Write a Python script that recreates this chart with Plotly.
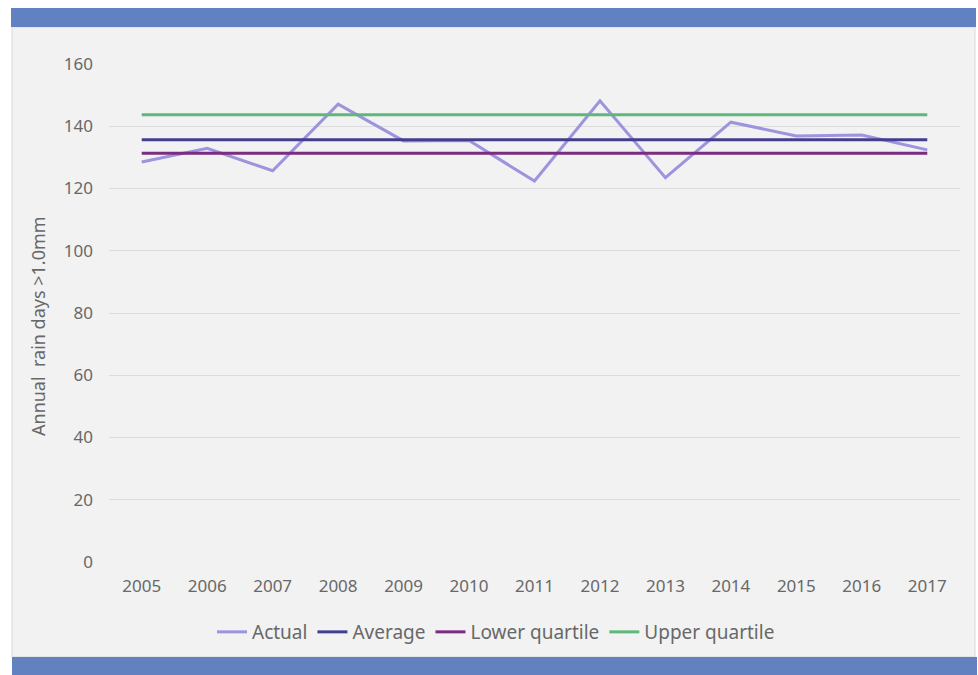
import plotly.graph_objects as go

# Annual rain days (>1.0mm) per year, with reference levels
years = ["2005", "2006", "2007", "2008", "2009", "2010", "2011",
         "2012", "2013", "2014", "2015", "2016", "2017"]
actual = [128.5, 132.9, 125.7, 147.1, 135.3, 135.4, 122.4,
          148.2, 123.5, 141.3, 136.9, 137.2, 132.4]
average_level = 135.7
lower_quartile_level = 131.3
upper_quartile_level = 143.7

average = [average_level] * len(years)
lower_quartile = [lower_quartile_level] * len(years)
upper_quartile = [upper_quartile_level] * len(years)

series = [
    ("Actual", actual, "#9c95de"),
    ("Average", average, "#433e8e"),
    ("Lower quartile", lower_quartile, "#7b2b80"),
    ("Upper quartile", upper_quartile, "#5db87b"),
]

W, H = 978, 675
M_L, M_R, M_T, M_B = 109, 18, 64, 113
PW, PH = W - M_L - M_R, H - M_T - M_B

def px(x):
    return (x - M_L) / PW

def py(y):
    return (H - M_B - y) / PH

fig = go.Figure()
for name, vals, color in series:
    fig.add_trace(go.Scatter(
        x=years, y=vals, name=name, mode="lines",
        line=dict(color=color, width=3),
    ))

font_family = "Noto Sans, Open Sans, sans-serif"
tick_color = "#686868"

shapes = [
    # light gray card behind the chart
    dict(type="rect", xref="paper", yref="paper",
         x0=px(12), x1=px(975), y0=py(657), y1=py(27),
         fillcolor="#f2f2f2", line=dict(color="#d9d9d9", width=1), layer="below"),
    # blue header band
    dict(type="rect", xref="paper", yref="paper",
         x0=px(11), x1=px(976), y0=py(27), y1=py(8),
         fillcolor="#6281c1", line=dict(width=0), layer="below"),
    # blue footer band
    dict(type="rect", xref="paper", yref="paper",
         x0=px(12), x1=px(977), y0=py(675), y1=py(657),
         fillcolor="#6281c1", line=dict(width=0), layer="below"),
]

# vertical y-axis caption
annotations = [
    dict(text="Annual  rain days >1.0mm", textangle=-90,
         xref="paper", yref="paper", x=px(38), y=py(326),
         xanchor="center", yanchor="middle", showarrow=False,
         font=dict(size=18, color=tick_color)),
]

fig.update_layout(
    width=W, height=H,
    autosize=False,
    margin=dict(l=M_L, r=M_R, t=M_T, b=M_B, autoexpand=False),
    paper_bgcolor="white",
    plot_bgcolor="rgba(0,0,0,0)",
    font=dict(family=font_family, color=tick_color),
    shapes=shapes,
    annotations=annotations,
    showlegend=True,
    legend=dict(
        orientation="h",
        x=px(496), xanchor="center",
        y=py(632), yanchor="middle",
        font=dict(size=19, color=tick_color),
        bgcolor="rgba(0,0,0,0)",
        itemwidth=30,
    ),
    xaxis=dict(
        type="category",
        range=[-0.5, len(years) - 0.5],
        showgrid=False, zeroline=False, showline=False,
        ticks="", tickfont=dict(size=17, color=tick_color),
        tickangle=0,
        ticklabelstandoff=12,
        automargin=False,
    ),
    yaxis=dict(
        range=[0, 160], dtick=20,
        showgrid=True, gridcolor="#dcdcdc", gridwidth=1,
        zeroline=False, showline=False, ticks="",
        tickfont=dict(size=17, color=tick_color),
        ticklabelstandoff=15,
        automargin=False,
    ),
)

fig.write_html("out.html")
